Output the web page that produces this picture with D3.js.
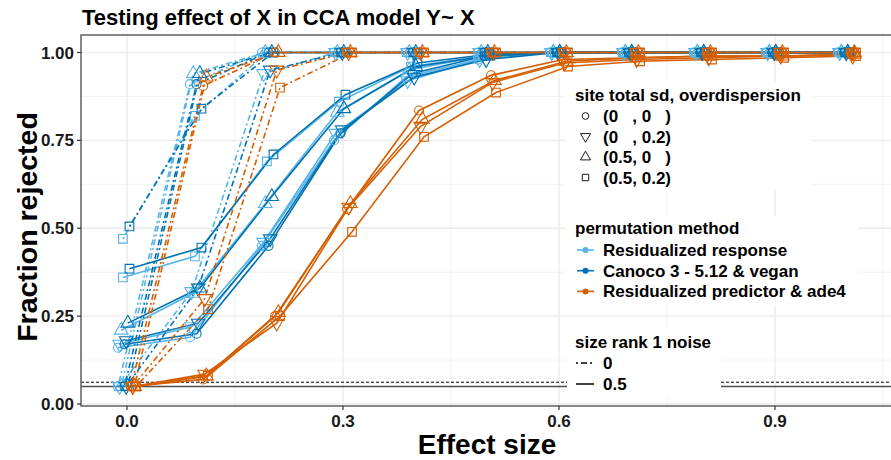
<!DOCTYPE html>
<html>
<head>
<meta charset="utf-8">
<script src="https://cdn.jsdelivr.net/npm/d3@7"></script>
<style>
  body { margin: 0; background: #fff; }
  text { font-family: "Liberation Sans", Arial, sans-serif; font-weight: bold; }
</style>
</head>
<body>
<div id="chart"></div>
<script>
// effect sizes on the x axis
const effectSize = [0, 0.1, 0.2, 0.3, 0.4, 0.5, 0.6, 0.7, 0.8, 0.9, 1.0];
const methods = ["Residualized response", "Canoco 3 - 5.12 & vegan", "Residualized predictor & ade4"];
const shapeLabels = ["(0   , 0   )", "(0   , 0.2)", "(0.5, 0   )", "(0.5, 0.2)"];
const noiseLabels = ["0", "0.5"];
const xTicks = [0, 0.3, 0.6, 0.9];
const yTicks = [0, 0.25, 0.5, 0.75, 1];
const nominalLevel = 0.05;
const upperLimit = 0.062;

// fraction rejected, rows in shape order: (0,0) (0,0.2) (0.5,0) (0.5,0.2)
// size rank 1 noise = 0
const respNoise0 = [
  [0.05, 0.91, 1, 1, 1, 1, 1, 1, 1, 1, 1],
  [0.05, 0.32, 0.94, 1, 1, 1, 1, 1, 1, 1, 1],
  [0.05, 0.94, 1, 1, 1, 1, 1, 1, 1, 1, 1],
  [0.47, 0.82, 1, 1, 1, 1, 1, 1, 1, 1, 1]
];
const canocoNoise0 = [
  [0.05, 0.91, 1, 1, 1, 1, 1, 1, 1, 1, 1],
  [0.05, 0.33, 0.95, 1, 1, 1, 1, 1, 1, 1, 1],
  [0.05, 0.94, 1, 1, 1, 1, 1, 1, 1, 1, 1],
  [0.505, 0.84, 1, 1, 1, 1, 1, 1, 1, 1, 1]
];
const predNoise0 = [
  [0.05, 0.905, 1, 1, 1, 1, 1, 1, 1, 1, 1],
  [0.05, 0.30, 0.95, 1, 1, 1, 1, 1, 1, 1, 1],
  [0.05, 0.93, 1, 1, 1, 1, 1, 1, 1, 1, 1],
  [0.05, 0.27, 0.90, 1, 1, 1, 1, 1, 1, 1, 1]
];
// size rank 1 noise = 0.5
const respNoise05 = [
  [0.16, 0.19, 0.45, 0.75, 0.93, 0.98, 1, 1, 1, 1, 1],
  [0.17, 0.22, 0.46, 0.77, 0.92, 0.98, 1, 1, 1, 1, 1],
  [0.21, 0.315, 0.57, 0.83, 0.95, 0.99, 1, 1, 1, 1, 1],
  [0.36, 0.42, 0.69, 0.86, 0.96, 0.99, 1, 1, 1, 1, 1]
];
const canocoNoise05 = [
  [0.17, 0.20, 0.45, 0.77, 0.94, 0.99, 1, 1, 1, 1, 1],
  [0.18, 0.23, 0.47, 0.78, 0.93, 0.98, 1, 1, 1, 1, 1],
  [0.23, 0.33, 0.59, 0.84, 0.96, 0.99, 1, 1, 1, 1, 1],
  [0.385, 0.445, 0.71, 0.88, 0.97, 0.995, 1, 1, 1, 1, 1]
];
const predNoise05 = [
  [0.05, 0.07, 0.25, 0.555, 0.835, 0.935, 0.98, 0.985, 0.99, 0.99, 0.995],
  [0.05, 0.085, 0.23, 0.56, 0.79, 0.915, 0.97, 0.98, 0.985, 0.99, 0.99],
  [0.05, 0.08, 0.26, 0.57, 0.81, 0.92, 0.975, 0.985, 0.99, 0.99, 0.995],
  [0.05, 0.08, 0.25, 0.49, 0.76, 0.886, 0.96, 0.975, 0.98, 0.985, 0.99]
];

const seriesByMethod = [
  [respNoise0, respNoise05],
  [canocoNoise0, canocoNoise05],
  [predNoise0, predNoise05]
];

const colors = ["#56B4E9", "#0072B2", "#D55E00"];
const dashes = ["2,3,6,3", null];

const W = 891, H = 460;
const panel = { left: 81, right: 893, top: 35, bottom: 406 };

const svg = d3.select("#chart").append("svg")
  .attr("width", W).attr("height", H);

const x = d3.scaleLinear().domain([0, 1]).range([127, 847]);
const y = d3.scaleLinear().domain([0, 1]).range([404, 52.5]);

// small horizontal dodge per group
const groupKeys = [];
methods.forEach((m, mi) => shapeLabels.forEach((s, si) => groupKeys.push(mi + "-" + si)));
const dodge = d3.scalePoint().domain(groupKeys).range([-9, 9]);

// grid
const grid = svg.append("g");
const xMinor = [0.15, 0.45, 0.75, 1.05];
const yMinor = [0.125, 0.375, 0.625, 0.875];
grid.selectAll(".xminor").data(xMinor).join("line")
  .attr("x1", d => x(d)).attr("x2", d => x(d))
  .attr("y1", panel.top).attr("y2", panel.bottom)
  .attr("stroke", "#f0f0f0").attr("stroke-width", 0.9);
grid.selectAll(".yminor").data(yMinor).join("line")
  .attr("y1", d => y(d)).attr("y2", d => y(d))
  .attr("x1", panel.left).attr("x2", panel.right)
  .attr("stroke", "#f0f0f0").attr("stroke-width", 0.9);
grid.selectAll(".xmajor").data(xTicks).join("line")
  .attr("x1", d => x(d)).attr("x2", d => x(d))
  .attr("y1", panel.top).attr("y2", panel.bottom)
  .attr("stroke", "#ebebeb").attr("stroke-width", 1.3);
grid.selectAll(".ymajor").data(yTicks).join("line")
  .attr("y1", d => y(d)).attr("y2", d => y(d))
  .attr("x1", panel.left).attr("x2", panel.right)
  .attr("stroke", "#ebebeb").attr("stroke-width", 1.3);

// reference lines
svg.append("line")
  .attr("x1", panel.left).attr("x2", panel.right)
  .attr("y1", y(nominalLevel)).attr("y2", y(nominalLevel))
  .attr("stroke", "#4d4d4d").attr("stroke-width", 1.4);
svg.append("line")
  .attr("x1", panel.left).attr("x2", panel.right)
  .attr("y1", y(upperLimit)).attr("y2", y(upperLimit))
  .attr("stroke", "#000").attr("stroke-width", 1).attr("stroke-dasharray", "3,2");

// build groups
const groups = [];
seriesByMethod.forEach((byNoise, mi) => {
  byNoise.forEach((rows, ni) => {
    rows.forEach((vals, si) => {
      groups.push({
        method: mi, noise: ni, shape: si,
        points: vals.map((v, i) => ({ x: effectSize[i], y: v }))
      });
    });
  });
});

const plot = svg.append("g");
groups.forEach(g => {
  const off = dodge(g.method + "-" + g.shape);
  plot.append("path")
    .attr("d", d3.line().x(d => x(d.x) + off).y(d => y(d.y))(g.points))
    .attr("fill", "none")
    .attr("stroke", colors[g.method])
    .attr("stroke-width", 1.6)
    .attr("stroke-dasharray", dashes[g.noise]);
});

const symbolTypes = [d3.symbolCircle, d3.symbolTriangle, d3.symbolTriangle, d3.symbolSquare];
const symbolRot = [0, 180, 0, 0];
const symbolSize = [65, 80, 80, 75];

groups.forEach(g => {
  const off = dodge(g.method + "-" + g.shape);
  plot.selectAll(null).data(g.points).join("path")
    .attr("d", d3.symbol().type(symbolTypes[g.shape]).size(symbolSize[g.shape]))
    .attr("transform", d => `translate(${x(d.x) + off},${y(d.y)}) rotate(${symbolRot[g.shape]})`)
    .attr("fill", "none")
    .attr("stroke", colors[g.method])
    .attr("stroke-width", 1.1);
});

// panel border
svg.append("rect")
  .attr("x", panel.left).attr("y", panel.top)
  .attr("width", panel.right - panel.left).attr("height", panel.bottom - panel.top)
  .attr("fill", "none").attr("stroke", "#555").attr("stroke-width", 1.4);

// axes
const yAxis = svg.append("g");
yAxis.selectAll("line").data(yTicks).join("line")
  .attr("x1", panel.left - 4).attr("x2", panel.left)
  .attr("y1", d => y(d)).attr("y2", d => y(d))
  .attr("stroke", "#333").attr("stroke-width", 1.2);
yAxis.selectAll("text").data(yTicks).join("text")
  .attr("x", panel.left - 7).attr("y", d => y(d) + 6)
  .attr("text-anchor", "end")
  .attr("font-size", 17).attr("fill", "#1a1a1a")
  .text(d => d3.format(".2f")(d));

const xAxis = svg.append("g");
xAxis.selectAll("line").data(xTicks).join("line")
  .attr("y1", panel.bottom).attr("y2", panel.bottom + 4)
  .attr("x1", d => x(d)).attr("x2", d => x(d))
  .attr("stroke", "#333").attr("stroke-width", 1.2);
xAxis.selectAll("text").data(xTicks).join("text")
  .attr("x", d => x(d)).attr("y", panel.bottom + 21)
  .attr("text-anchor", "middle")
  .attr("font-size", 17).attr("fill", "#1a1a1a")
  .text(d => d3.format(".1f")(d));

// titles
svg.append("text").attr("x", 82).attr("y", 25)
  .attr("font-size", 22).attr("fill", "#000")
  .text("Testing effect of X in CCA model Y~ X");
svg.append("text").attr("x", (panel.left + panel.right) / 2).attr("y", 454)
  .attr("text-anchor", "middle").attr("font-size", 28)
  .text("Effect size");
svg.append("text")
  .attr("transform", `translate(37,227) rotate(-90)`)
  .attr("text-anchor", "middle").attr("font-size", 28.5)
  .text("Fraction rejected");

// legends
const leg = svg.append("g");
const lx = 565, keyX = 585.5, textX = 603;

// shape legend
leg.append("rect").attr("x", lx).attr("y", 81).attr("width", 247).attr("height", 110).attr("fill", "#fff");
leg.append("text").attr("x", 575).attr("y", 101).attr("font-size", 17).text("site total sd, overdispersion");
shapeLabels.forEach((lab, i) => {
  const cy = 116 + i * 20.5;
  leg.append("path")
    .attr("d", d3.symbol().type(symbolTypes[i]).size(symbolSize[i] * 0.55)())
    .attr("transform", `translate(${keyX},${cy}) rotate(${symbolRot[i]})`)
    .attr("fill", "none").attr("stroke", "#000").attr("stroke-width", 0.9);
  leg.append("text").attr("x", textX).attr("y", cy + 6).attr("font-size", 17)
    .attr("xml:space", "preserve").style("white-space", "pre").text(lab);
});

// method legend
leg.append("rect").attr("x", lx).attr("y", 216).attr("width", 293).attr("height", 89).attr("fill", "#fff");
leg.append("text").attr("x", 575).attr("y", 234).attr("font-size", 17).text("permutation method");
methods.forEach((lab, i) => {
  const cy = 250 + i * 20.7;
  leg.append("line").attr("x1", 577).attr("x2", 594).attr("y1", cy).attr("y2", cy)
    .attr("stroke", colors[i]).attr("stroke-width", 1.6);
  leg.append("circle").attr("cx", keyX).attr("cy", cy).attr("r", 3).attr("fill", colors[i]);
  leg.append("text").attr("x", textX).attr("y", cy + 6).attr("font-size", 17).text(lab);
});

// noise legend
leg.append("rect").attr("x", lx + 2).attr("y", 328).attr("width", 154).attr("height", 70).attr("fill", "#fff");
leg.append("text").attr("x", 575).attr("y", 348).attr("font-size", 17).text("size rank 1 noise");
noiseLabels.forEach((lab, i) => {
  const cy = 363 + i * 21;
  leg.append("line").attr("x1", 576).attr("x2", 594).attr("y1", cy).attr("y2", cy)
    .attr("stroke", "#000").attr("stroke-width", 1.5)
    .attr("stroke-dasharray", dashes[i]);
  leg.append("text").attr("x", textX).attr("y", cy + 6).attr("font-size", 17).text(lab);
});
</script>
</body>
</html>
